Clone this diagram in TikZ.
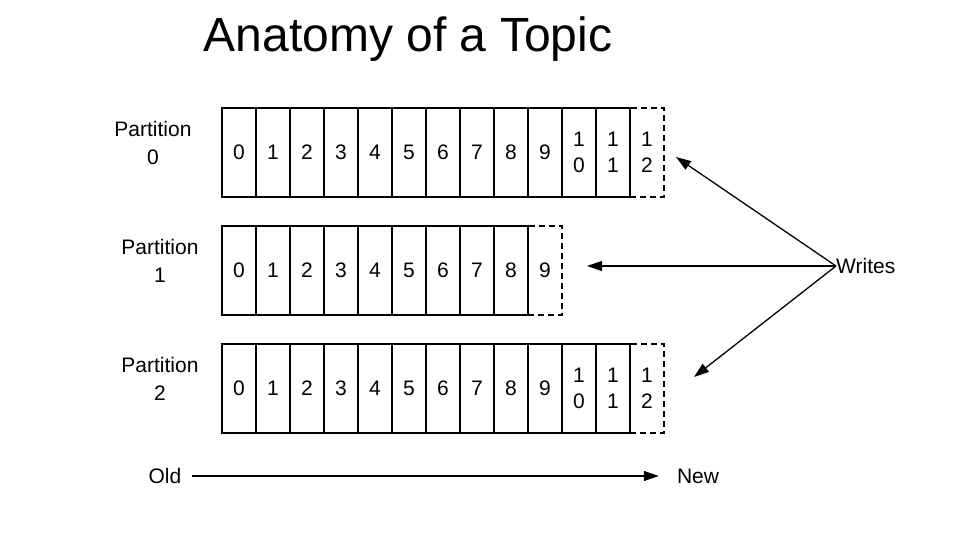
\documentclass[tikz,border=0pt]{standalone}
\usepackage{fontspec}
\setmainfont{Liberation Sans}
\usetikzlibrary{arrows.meta}
\begin{document}
\begin{tikzpicture}[
  x=1pt, y=-1pt,
  cell/.style={draw, line width=1.3pt, minimum width=34pt, minimum height=89pt, inner sep=0pt, outer sep=0pt,
    anchor=north west, align=center, font=\fontsize{21}{26}\selectfont},
  newcell/.style={cell, dash pattern=on 6pt off 4pt},
  lab/.style={align=center, font=\fontsize{21}{28}\selectfont, inner sep=0pt},
  arr/.style={line width=1.3pt, -{Triangle[length=15pt,width=10pt]}}
]
\useasboundingbox (0,0) rectangle (962,534);
\node[font=\fontsize{48}{52}\selectfont] (title) at (408,39) {Anatomy of a Topic};
\foreach \p/\y/\lx in {0/108/153,1/226/160,2/344/160} {
  \node[lab] (part\p) at (\lx,\y+35) {Partition\\\p};
}
\foreach \t [count=\i from 0] in {0,1,2,3,4,5,6,7,8,9,{1\\0},{1\\1}} {
  \node[cell] (p0c\i) at (222+\i*34,108) {\t};
  \node[cell] (p2c\i) at (222+\i*34,344) {\t};
  \ifnum\i<9
    \node[cell] (p1c\i) at (222+\i*34,226) {\t};
  \fi
}
\node[newcell] (p0c12) at (630,108) {1\\2};
\node[newcell] (p1c9) at (528,226) {9};
\node[newcell] (p2c12) at (630,344) {1\\2};
\node[lab, anchor=west] (writes) at (836,266) {Writes};
\coordinate (tip0) at (676,157);
\coordinate (tip1) at (587,266);
\coordinate (tip2) at (694,377);
\foreach \k in {0,1,2} {
  \draw[arr] (writes.west) -- (tip\k);
}
\node[lab] (old) at (165,476) {Old};
\node[lab] (new) at (698,476) {New};
\draw[arr, shorten <=10pt, shorten >=18pt] (old.east) -- (new.west);
\end{tikzpicture}
\end{document}
